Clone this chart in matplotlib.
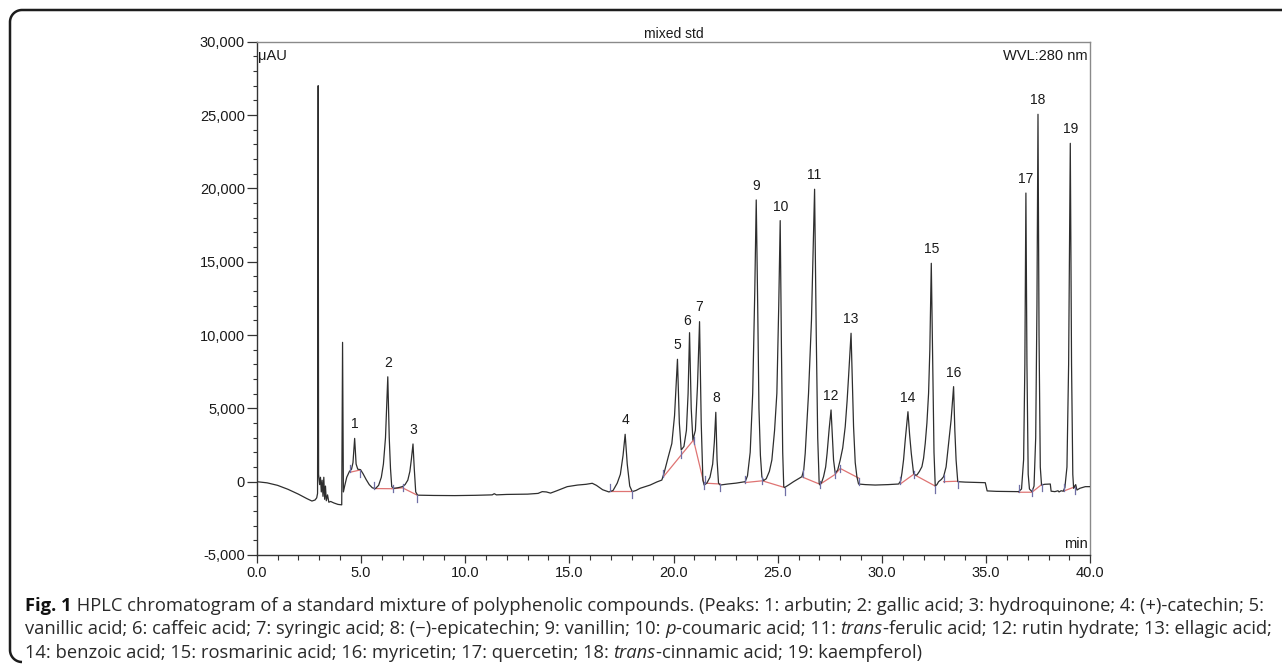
import matplotlib
matplotlib.use("Agg")
import matplotlib.pyplot as plt
from matplotlib.ticker import MultipleLocator, FuncFormatter
import numpy as np

# ---------------- data ----------------
trace_time = [
    0.00, 0.5, 1.0, 1.5, 2.0, 2.4, 2.65, 2.80, 2.88, 2.92, 2.95, 2.97, 3.02, 3.06, 3.10, 3.14,
    3.18, 3.22, 3.26, 3.30, 3.34, 3.40, 3.46, 3.55, 3.70, 3.90, 4.08, 4.12, 4.16, 4.22,
    4.32, 4.45, 4.55, 4.62, 4.70, 4.77, 4.85, 4.98, 5.10, 5.25, 5.40, 5.55, 5.70, 5.85,
    5.98, 6.08, 6.18, 6.29, 6.36, 6.42, 6.48, 6.60, 6.75, 6.88, 7.00, 7.12, 7.25, 7.35,
    7.42, 7.50, 7.56, 7.63, 7.72, 8.5, 9.5, 10.5, 11.3, 11.4, 11.5, 12.0, 12.5, 13.0,
    13.5, 13.7, 13.9, 14.1, 14.4, 14.9, 15.4, 15.8, 16.1, 16.3, 16.6, 16.9, 17.1, 17.3,
    17.45, 17.58, 17.68, 17.78, 17.90, 18.02, 18.2, 18.4, 18.88, 19.2, 19.44, 19.55, 19.75, 19.92,
    20.05, 20.19, 20.28, 20.37, 20.50, 20.62, 20.70, 20.77, 20.85, 20.93, 21.05, 21.15, 21.25, 21.33,
    21.41, 21.47, 21.60, 21.75, 21.88, 21.96, 22.03, 22.09, 22.16, 22.24, 22.6, 23.0, 23.44, 23.55,
    23.68, 23.80, 23.90, 23.97, 24.04, 24.10, 24.17, 24.24, 24.32, 24.45, 24.60, 24.72, 24.85, 24.96,
    25.05, 25.12, 25.18, 25.24, 25.29, 25.33, 25.55, 25.76, 26.00, 26.16, 26.25, 26.32, 26.48, 26.62,
    26.77, 26.85, 26.92, 26.99, 27.03, 27.12, 27.20, 27.30, 27.37, 27.47, 27.56, 27.62, 27.68, 27.76,
    27.88, 28.00, 28.12, 28.24, 28.33, 28.40, 28.52, 28.58, 28.64, 28.72, 28.80, 28.88, 29.2, 29.68,
    30.3, 30.8, 30.9, 30.96, 31.04, 31.12, 31.25, 31.33, 31.41, 31.52, 31.60, 31.68, 31.80, 31.92,
    32.00, 32.08, 32.16, 32.24, 32.30, 32.37, 32.44, 32.50, 32.56, 32.64, 32.72, 32.85, 32.96, 33.08,
    33.20, 33.32, 33.44, 33.50, 33.56, 33.64, 34.0, 34.5, 34.96, 35.05, 35.5, 36.0, 36.56, 36.70,
    36.80, 36.86, 36.91, 36.96, 37.02, 37.08, 37.20, 37.30, 37.38, 37.44, 37.49, 37.54, 37.60, 37.66,
    37.80, 38.08, 38.12, 38.30, 38.45, 38.50, 38.60, 38.70, 38.78, 38.88, 38.96, 39.04, 39.10, 39.16,
    39.20, 39.25, 39.30, 39.36, 39.50, 39.76, 40.0,
]
trace_signal = [
    0, -80, -250, -520, -850, -1150, -1320, -1250, -1100, -800, 27000, 500, -200, 300, -700, 100,
    -1000, 300, -1200, -300, -1300, -900, -1400, -1350, -1450, -1550, -1580, 9500, -700, -300,
    300, 700, 850, 1300, 2950, 1200, 850, 820, 550, 150, -200, -420, -470, -250,
    300, 1200, 3000, 7150, 3000, 900, -350, -450, -420, -380, -330, -200, 100, 700,
    1500, 2570, 900, -700, -920, -940, -950, -930, -900, -820, -900, -870, -860, -850,
    -800, -680, -700, -780, -620, -340, -230, -180, -110, -250, -550, -700, -600, -100,
    500, 1800, 3230, 1200, -300, -680, -600, -450, -230, -20, 110, 600, 1700, 2600,
    4500, 8345, 4000, 2160, 2400, 3500, 6000, 10160, 5000, 2840, 3500, 6500, 10910, 4000,
    110, -230, -100, 300, 1200, 2700, 4730, 1500, -100, -230, -160, -100, 0, 400,
    2000, 6000, 13000, 19210, 12000, 5000, 1800, 340, 70, 200, 700, 1480, 3500, 6030,
    12000, 17800, 9000, 2000, -340, -400, -200, 0, 200, 340, 800, 1930, 6030, 11000,
    19940, 10000, 3000, -110, -230, 0, 340, 1000, 1930, 3600, 4890, 3200, 1480, 570,
    800, 1480, 2300, 3750, 5500, 7150, 10120, 7000, 3750, 1300, 340, -160, -200, -230,
    -200, -160, 50, 570, 1500, 2840, 4770, 3200, 1930, 570, 450, 455, 700, 1020,
    1600, 2620, 4000, 6030, 9000, 14890, 8000, 2000, -300, -200, 0, 150, 340, 1000,
    2620, 4200, 6480, 3500, 1480, 0, -30, -50, -70, -630, -660, -670, -680, -500,
    1500, 8000, 19680, 8000, 500, -500, -680, -300, 3000, 12000, 25050, 10000, 1000, -230,
    -180, -160, -650, -680, -620, -700, -620, -650, -400, 1000, 8000, 23070, 8000, 500,
    -450, -300, -200, -570, -450, -340, -340,
]

# integration baselines (red) drawn by the data system: one list per peak group
baseline_times = [
    [4.50, 4.98],
    [5.65, 6.55, 7.00, 7.70],
    [16.96, 18.02],
    [19.52, 20.37, 20.96, 21.44],
    [21.52, 22.24],
    [23.44, 24.26, 25.33],
    [26.21, 27.03, 27.76, 28.00, 28.88],
    [30.88, 31.52, 32.56],
    [32.96, 33.64],
    [36.56, 37.20, 37.68],
    [38.72, 39.28],
]
baseline_signals = [
    [650, 800],
    [-470, -480, -420, -920],
    [-640, -640],
    [340, 1820, 2840, 0],
    [-100, -160],
    [-60, 60, -400],
    [300, -180, 500, 900, 250],
    [-160, 500, -300],
    [0, 30],
    [-720, -720, -180],
    [-640, -340],
]

peak_numbers = [str(i) for i in range(1, 20)]
peak_times = [4.70, 6.29, 7.50, 17.68, 20.19, 20.77, 21.25, 22.03, 23.97, 25.12,
              26.77, 27.56, 28.52, 31.25, 32.37, 33.44, 36.91, 37.49, 39.04]
peak_heights = [2950, 7150, 2570, 3230, 8345, 10160, 10910, 4730, 19210, 17800,
                19940, 4890, 10120, 4770, 14890, 6480, 19680, 25050, 23070]

x_ticks = [0.0, 5.0, 10.0, 15.0, 20.0, 25.0, 30.0, 35.0, 40.0]
y_ticks = [-5000, 0, 5000, 10000, 15000, 20000, 25000, 30000]

caption_lines = [
    [("Fig. 1", "bold"), (" HPLC chromatogram of a standard mixture of polyphenolic compounds. (Peaks: 1: arbutin; 2: gallic acid; 3: hydroquinone; 4: (+)-catechin; 5:", "normal")],
    [("vanillic acid; 6: caffeic acid; 7: syringic acid; 8: (\u2212)-epicatechin; 9: vanillin; 10: ", "normal"), ("p", "italic"),
     ("-coumaric acid; 11: ", "normal"), ("trans", "italic"), ("-ferulic acid; 12: rutin hydrate; 13: ellagic acid;", "normal")],
    [("14: benzoic acid; 15: rosmarinic acid; 16: myricetin; 17: quercetin; 18: ", "normal"), ("trans", "italic"),
     ("-cinnamic acid; 19: kaempferol)", "normal")],
]

# ---------------- styling ----------------
W, H = 1282, 672
TRACE = "#2e2e2e"
RED = "#df7473"
TICKC = "#6f6fa6"
label_font = "Liberation Sans"
caption_font = "Open Sans"

fig = plt.figure(figsize=(W / 100, H / 100), dpi=100)
fig.patch.set_facecolor("white")

ax = fig.add_axes([256.7 / W, 1 - 555 / H, (1090.3 - 256.7) / W, (555 - 41.7) / H])
ax.set_xlim(0, 40)
ax.set_ylim(-5000, 30000)

ax.plot(trace_time, trace_signal, color=TRACE, lw=0.9, zorder=3, solid_joinstyle="round")

tick_len = 480
for bt, bs in zip(baseline_times, baseline_signals):
    ax.plot(bt, bs, color=RED, lw=0.9, zorder=2)
    n = len(bt)
    for i, (t, s) in enumerate(zip(bt, bs)):
        if i == 0:
            y0, y1 = s, s + tick_len
        elif i == n - 1:
            y0, y1 = s - tick_len, s
        else:
            y0, y1 = s - tick_len / 2, s + tick_len / 2
        ax.plot([t, t], [y0, y1], color=TICKC, lw=0.9, zorder=4)

for name, t, h in zip(peak_numbers, peak_times, peak_heights):
    dx, dy = 0, 14
    if name == "6":
        dx, dy = -2, 12
    if name == "7":
        dx, dy = 0, 15
    ax.annotate(name, (t, h), xytext=(dx, dy), textcoords="offset pixels",
                ha="center", va="center", fontsize=10, family=label_font, color="#1a1a1a")

ax.set_xticks(x_ticks)
ax.set_yticks(y_ticks)
ax.xaxis.set_minor_locator(MultipleLocator(1))
ax.yaxis.set_minor_locator(MultipleLocator(1000))
ax.xaxis.set_major_formatter(FuncFormatter(lambda v, p: f"{v:.1f}"))
ax.yaxis.set_major_formatter(FuncFormatter(lambda v, p: f"{v:,.0f}"))
ax.tick_params(axis="x", which="major", direction="out", length=6, width=0.9, color="#333333",
               labelsize=10.5, pad=2, labelcolor="#1a1a1a")
ax.tick_params(axis="x", which="minor", direction="out", length=3.5, width=0.8, color="#333333")
ax.tick_params(axis="y", which="major", direction="out", length=7, width=0.9, color="#333333",
               labelsize=10.5, pad=1.5, labelcolor="#1a1a1a")
ax.tick_params(axis="y", which="minor", direction="out", length=3.2, width=0.8, color="#333333")
for lab in ax.get_xticklabels() + ax.get_yticklabels():
    lab.set_family(label_font)

for side in ("left", "bottom"):
    ax.spines[side].set_color("#333333")
    ax.spines[side].set_linewidth(1.0)
for side in ("top", "right"):
    ax.spines[side].set_color("#8a8a8a")
    ax.spines[side].set_linewidth(1.0)

ax.set_title("mixed std", fontsize=10, family=label_font, pad=3, color="#1a1a1a")
ax.text(0.002, 0.985, "\u03bcAU", transform=ax.transAxes, ha="left", va="top",
        fontsize=10.5, family=label_font, color="#1a1a1a")
ax.text(0.997, 0.985, "WVL:280 nm", transform=ax.transAxes, ha="right", va="top",
        fontsize=10.5, family=label_font, color="#1a1a1a")
ax.text(0.997, 0.008, "min", transform=ax.transAxes, ha="right", va="bottom",
        fontsize=10.5, family=label_font, color="#1a1a1a")

# ---------------- frame (overlay in pixel coordinates) ----------------
ov = fig.add_axes([0, 0, 1, 1], zorder=-1)
ov.set_xlim(0, W)
ov.set_ylim(H, 0)
ov.axis("off")
r = 12
left, top, bottom = 10, 10, 662
th_top = np.linspace(1.5 * np.pi, np.pi, 20)
th_bot = np.linspace(np.pi, 0.5 * np.pi, 20)
fx = [W] + list(left + r + r * np.cos(th_top)) + list(left + r + r * np.cos(th_bot))
fy = [top] + list(top + r + r * np.sin(th_top)) + list(bottom - r + r * np.sin(th_bot))
ov.plot(fx, fy, color="#1c1c1c", lw=1.8, solid_capstyle="butt")

# ---------------- caption ----------------
fig.canvas.draw()
renderer = fig.canvas.get_renderer()
line_y = [604, 627.5, 651]
x_start, x_target = 25, 1274


def seg_kw(style, size):
    kw = dict(fontsize=size, family=caption_font, color="#2a2a2a")
    if style == "bold":
        kw.update(weight="bold", color="#111111")
    if style == "italic":
        kw["style"] = "italic"
    return kw


def measure(segs, size):
    total = 0.0
    for txt, style in segs:
        t = fig.text(0, 0, txt, **seg_kw(style, size))
        total += t.get_window_extent(renderer=renderer).width
        t.remove()
    return total


# caption size chosen so that the longest line fits the caption block
trial = 10.0
cap_size = trial * min((x_target - x_start) / measure(segs, trial) for segs in caption_lines)

for segs, y in zip(caption_lines, line_y):
    x = x_start
    for txt, style in segs:
        t = fig.text(x / W, 1 - y / H, txt, ha="left", va="center_baseline", **seg_kw(style, cap_size))
        x += t.get_window_extent(renderer=renderer).width

fig.savefig("out.png", dpi=100, facecolor="white")
